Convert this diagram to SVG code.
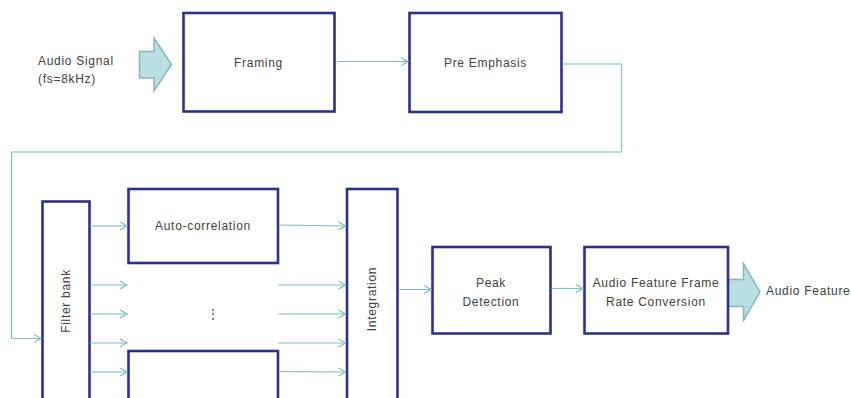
<svg xmlns="http://www.w3.org/2000/svg" width="851" height="398" viewBox="0 0 851 398">
  <style>
    .box { fill: #ffffff; stroke: #2e3087; stroke-width: 2.6; }
    .lbl { font-family: "Liberation Sans", Arial, sans-serif; font-size: 12px; letter-spacing: 0.7px; fill: #404040; }
    .mid { text-anchor: middle; }
    .wire { fill: none; stroke: #7dbec3; stroke-width: 1.2; }
    .fat { fill: #b8dfe2; stroke: #8fb4b6; stroke-width: 1.5; stroke-linejoin: miter; }
  </style>
  <defs>
    <marker id="head" markerWidth="10" markerHeight="10" refX="8" refY="5" orient="auto" markerUnits="userSpaceOnUse">
      <path d="M1,1 L8,5 L1,9" fill="none" stroke="#7dbec3" stroke-width="1.2"/>
    </marker>
  </defs>

  <!-- input / output labels and block arrows -->
  <g id="input">
    <text class="lbl" x="38" y="65">Audio Signal</text>
    <text class="lbl" x="38" y="83">(fs=8kHz)</text>
    <path class="fat" d="M139.5,51.5 H154 V38 L171.5,64.5 L154,91 V78 H139.5 Z"/>
  </g>
  <g id="output">
    <path class="fat" d="M728,279.5 H743.5 V263.5 L760,292 L743.5,320.5 V306.5 H728 Z"/>
    <text class="lbl" x="766" y="295">Audio Feature</text>
  </g>

  <g id="framing">
    <rect class="box" x="183.5" y="13" width="151" height="98.5"/>
    <text class="lbl mid" x="258.5" y="66.5">Framing</text>
  </g>
  <g id="pre-emphasis">
    <rect class="box" x="409.5" y="13" width="152" height="99"/>
    <text class="lbl mid" x="485.5" y="66.5">Pre Emphasis</text>
  </g>
  <g id="filterbank">
    <rect class="box" x="42.5" y="201.5" width="47" height="210"/>
    <text class="lbl mid" transform="translate(70,301) rotate(-90)">Filter bank</text>
  </g>
  <g id="autocorrelation">
    <rect class="box" x="128.5" y="189" width="149.5" height="74"/>
    <text class="lbl mid" x="203" y="230">Auto-correlation</text>
  </g>
  <g id="ellipsis">
    <text class="lbl mid" x="212.5" y="318" style="letter-spacing:0">⋮</text>
  </g>
  <g id="autocorrelation-n">
    <rect class="box" x="128.5" y="351" width="149.5" height="70"/>
  </g>
  <g id="integration">
    <rect class="box" x="347" y="189" width="50.5" height="230"/>
    <text class="lbl mid" transform="translate(376,299) rotate(-90)">Integration</text>
  </g>
  <g id="peak-detection">
    <rect class="box" x="432.5" y="247" width="118" height="86.5"/>
    <text class="lbl mid" x="491" y="287">Peak</text>
    <text class="lbl mid" x="491" y="306">Detection</text>
  </g>
  <g id="rate-conversion">
    <rect class="box" x="584.5" y="247" width="143.5" height="86.5"/>
    <text class="lbl mid" x="656" y="287">Audio Feature Frame</text>
    <text class="lbl mid" x="656" y="306">Rate Conversion</text>
  </g>

  <g id="connectors">
    <path class="wire" d="M337,61.5 H408" marker-end="url(#head)"/>
    <path class="wire" d="M562.5,64 H621.5 V152 H11.5 V338.5 H41" marker-end="url(#head)"/>
    <!-- filter bank outputs -->
    <path class="wire" d="M90,226 H127" marker-end="url(#head)"/>
    <path class="wire" d="M90,285 H127" marker-end="url(#head)"/>
    <path class="wire" d="M90,314 H127" marker-end="url(#head)"/>
    <path class="wire" d="M90,343 H127" marker-end="url(#head)"/>
    <path class="wire" d="M90,372 H127" marker-end="url(#head)"/>
    <!-- into integration -->
    <path class="wire" d="M279,225 L345.5,226" marker-end="url(#head)"/>
    <path class="wire" d="M278,285 H345.5" marker-end="url(#head)"/>
    <path class="wire" d="M278,314 H345.5" marker-end="url(#head)"/>
    <path class="wire" d="M278,343 H345.5" marker-end="url(#head)"/>
    <path class="wire" d="M279,371.5 L345.5,372" marker-end="url(#head)"/>
    <!-- back end -->
    <path class="wire" d="M398.5,289.5 H431" marker-end="url(#head)"/>
    <path class="wire" d="M551.5,288.5 H583" marker-end="url(#head)"/>
  </g>
</svg>
